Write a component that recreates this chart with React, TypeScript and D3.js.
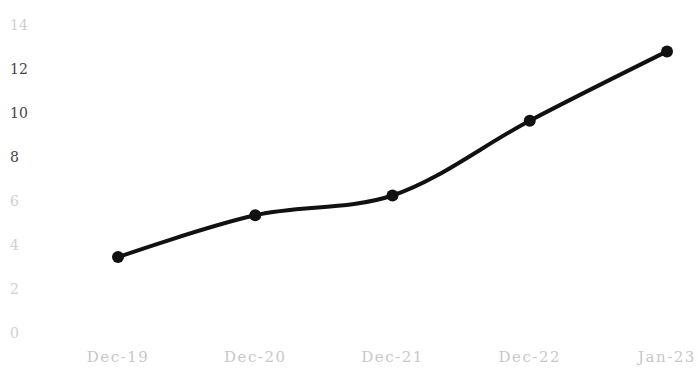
import React from "react";
import * as d3 from "d3";

const categories = ["Dec-19", "Dec-20", "Dec-21", "Dec-22", "Jan-23"];
const values = [3.45, 5.35, 6.25, 9.65, 12.8];
const yTicks = [0, 2, 4, 6, 8, 10, 12, 14];
const darkTicks = [8, 10, 12];

const W = 700;
const H = 371;

export default function App() {
  const x = d3.scalePoint<string>().domain(categories).range([118, 667]);
  const y = d3.scaleLinear().domain([0, 14]).range([333, 25]);
  const line = d3
    .line<number>()
    .x((_, i) => x(categories[i]) as number)
    .y((d) => y(d))
    .curve(d3.curveCatmullRom.alpha(0.5));

  return (
    <svg
      width={W}
      height={H}
      style={{ position: "absolute", left: 0, top: 0, background: "#fff" }}
    >
      {yTicks.map((t) => (
        <text
          key={t}
          x={10}
          y={y(t)}
          dy="0.35em"
          fontFamily="'DejaVu Serif', serif"
          fontSize={14}
          fill={darkTicks.includes(t) ? "#444" : "#d0d0d0"}
        >
          {t}
        </text>
      ))}
      {categories.map((c) => (
        <text
          key={c}
          x={x(c) as number}
          y={362}
          textAnchor="middle"
          fontFamily="'DejaVu Serif', serif"
          fontSize={15}
          letterSpacing={1.5}
          fill="#c8c8c8"
        >
          {c}
        </text>
      ))}
      <path
        d={line(values) || ""}
        fill="none"
        stroke="#111"
        strokeWidth={4}
        strokeLinejoin="round"
        strokeLinecap="round"
      />
      {values.map((v, i) => (
        <circle key={i} cx={x(categories[i]) as number} cy={y(v)} r={6} fill="#111" />
      ))}
    </svg>
  );
}
